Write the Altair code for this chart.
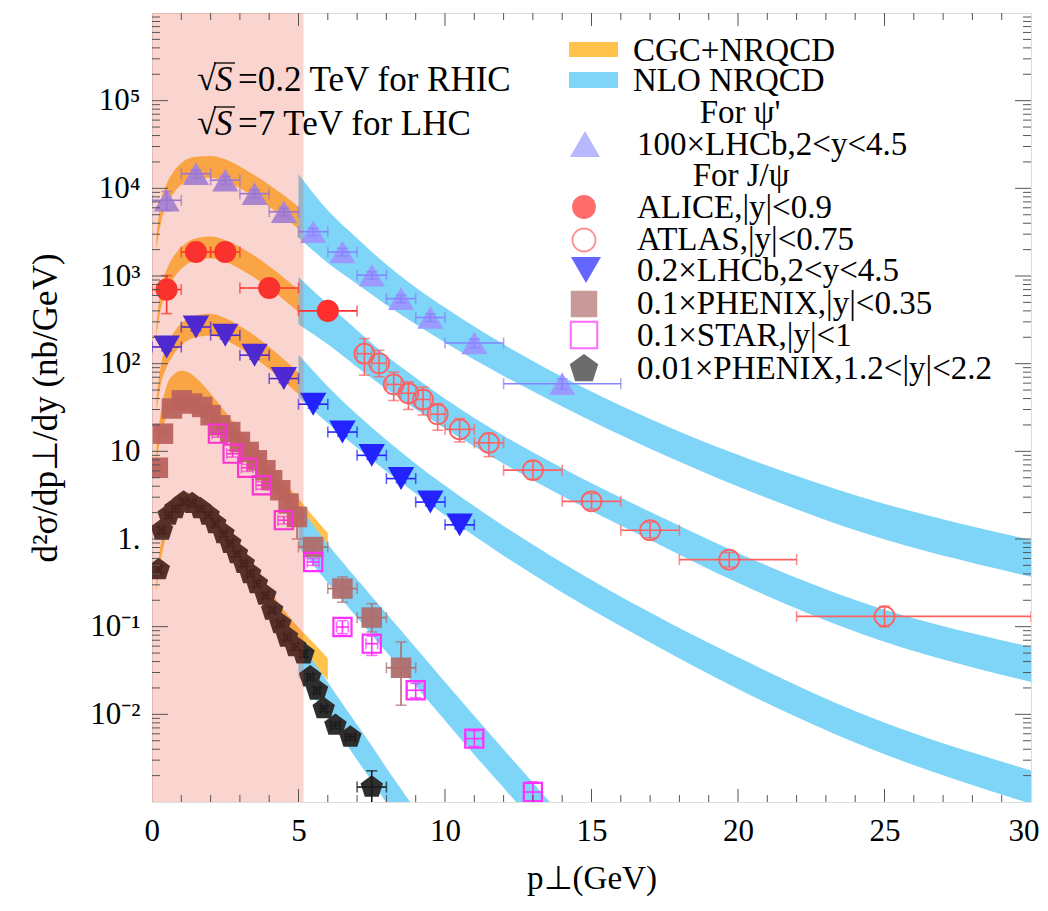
import altair as alt
import pandas as pd

# ---------------- measured data (values as read from the figure) ----------------
# psi(2S): 100 x LHCb, 2<y<4.5
psi_x   = [0.5, 1.5, 2.5, 3.5, 4.5, 5.5, 6.5, 7.5, 8.5, 9.5, 11, 14]
psi_y   = [7300, 14700, 12400, 8700, 5400, 3200, 1880, 1020, 552, 336, 172, 59]
psi_xlo = [0, 1, 2, 3, 4, 5, 6, 7, 8, 9, 10, 12]
psi_xhi = [1, 2, 3, 4, 5, 6, 7, 8, 9, 10, 12, 16]
psi_ylo = [5600, 13200, 11100, 7800, 4850, 2880, 1690, 920, 497, 302, 152, 51]
psi_yhi = [9200, 16200, 13700, 9600, 5950, 3520, 2070, 1120, 607, 370, 192, 67]

# J/psi: ALICE |y|<0.9
alice_x   = [0.5, 1.5, 2.5, 4, 6]
alice_y   = [700, 1880, 1880, 730, 400]
alice_xlo = [0, 1, 2, 3, 5]
alice_xhi = [1, 2, 3, 5, 7]
alice_ylo = [372, 1700, 1700, 650, 360]
alice_yhi = [1011, 2080, 2080, 820, 445]

# J/psi: ATLAS |y|<0.75
atlas_x   = [7.25, 7.75, 8.25, 8.75, 9.25, 9.75, 10.5, 11.5, 13, 15, 17, 19.7, 25]
atlas_y   = [130, 101, 58, 46, 39, 26.5, 17.8, 12.5, 6.1, 2.69, 1.26, 0.582, 0.131]
atlas_xlo = [7, 7.5, 8, 8.5, 9, 9.5, 10, 11, 12, 14, 16, 18, 22]
atlas_xhi = [7.5, 8, 8.5, 9, 9.5, 10, 11, 12, 14, 16, 18, 22, 30]
atlas_ylo = [74, 71, 38, 30, 26, 17.4, 12.8, 8.7, 4.8, 2.2, 1.03, 0.48, 0.0993]
atlas_yhi = [193, 142, 80, 62, 54, 35, 23.6, 16, 7.7, 3.3, 1.55, 0.70, 0.171]

# J/psi: 0.2 x LHCb, 2<y<4.5
lhcb_x   = [0.5, 1.5, 2.5, 3.5, 4.5, 5.5, 6.5, 7.5, 8.5, 9.5, 10.5]
lhcb_y   = [155, 262, 211, 125, 67.6, 34.5, 16.6, 9.0, 4.89, 2.64, 1.45]
lhcb_xlo = [0, 1, 2, 3, 4, 5, 6, 7, 8, 9, 10]
lhcb_xhi = [1, 2, 3, 4, 5, 6, 7, 8, 9, 10, 11]
lhcb_ylo = [140, 236, 190, 112, 60.8, 31, 14.9, 8.1, 4.4, 2.38, 1.3]
lhcb_yhi = [171, 288, 232, 138, 74.4, 38, 18.3, 9.9, 5.38, 2.9, 1.6]

# J/psi: 0.1 x PHENIX |y|<0.35
phx_x   = [0.2, 0.375, 0.68, 1.02, 1.37, 1.71, 2.0, 2.33, 2.67, 3.0, 3.3, 3.58, 3.87, 4.1, 4.38, 4.66, 4.95, 5.5, 6.5, 7.5, 8.5]
phx_y   = [6.5, 15.9, 30.8, 38.2, 35.1, 32.1, 25.8, 19.8, 16.6, 12.8, 9.84, 7.9, 6.08, 4.68, 3.6, 2.54, 1.78, 0.81, 0.272, 0.127, 0.034]
phx_xlo = [0.1, 0.25, 0.55, 0.9, 1.25, 1.6, 1.875, 2.2, 2.55, 2.875, 3.175, 3.45, 3.75, 3.975, 4.25, 4.5, 4.75, 5, 6, 7, 8]
phx_xhi = [0.3, 0.5, 0.8, 1.15, 1.5, 1.85, 2.125, 2.45, 2.8, 3.125, 3.425, 3.7, 4.0, 4.225, 4.5, 4.8, 5.15, 6, 7, 8, 9]
phx_ylo = [5.9, 14.5, 28.2, 35, 32.2, 29.4, 23.6, 18.1, 15.2, 11.7, 9.0, 7.2, 5.5, 4.25, 3.25, 2.25, 1.0, 0.68, 0.19, 0.087, 0.0127]
phx_yhi = [7.1, 17.3, 33.4, 41.4, 38, 34.8, 28, 21.5, 18, 13.9, 10.7, 8.6, 6.65, 5.1, 3.95, 2.85, 2.3, 0.95, 0.37, 0.183, 0.067]

# J/psi: 0.1 x STAR |y|<1
star_x   = [2.25, 2.75, 3.25, 3.75, 4.5, 5.5, 6.5, 7.5, 9, 11, 13]
star_y   = [15.9, 9.4, 6.5, 4.1, 1.64, 0.547, 0.099, 0.064, 0.0188, 0.00528, 0.0013]
star_xlo = [2.05, 2.55, 3.05, 3.55, 4.3, 5.3, 6.3, 7.3, 8.7, 10.7, 12.7]
star_xhi = [2.45, 2.95, 3.45, 3.95, 4.7, 5.7, 6.7, 7.7, 9.3, 11.3, 13.3]
star_ylo = [14.5, 8.6, 5.9, 3.7, 1.48, 0.5, 0.083, 0.047, 0.0155, 0.0043, 0.00095]
star_yhi = [17.4, 10.3, 7.1, 4.5, 1.8, 0.6, 0.117, 0.078, 0.0225, 0.0065, 0.0017]

# J/psi: 0.01 x PHENIX 1.2<|y|<2.2
fwd_x   = [0.23, 0.34, 0.57, 0.8, 1.08, 1.37, 1.65, 1.93, 2.16, 2.44, 2.67, 2.9, 3.13, 3.35, 3.58, 3.87, 4.1, 4.38, 4.61, 4.89, 5.17, 5.4, 5.63, 5.86, 6.26, 6.77, 7.5]
fwd_y   = [0.448, 1.26, 1.87, 2.22, 2.64, 2.54, 2.22, 1.87, 1.5, 1.15, 0.89, 0.68, 0.525, 0.403, 0.31, 0.228, 0.154, 0.108, 0.076, 0.059, 0.049, 0.0267, 0.0188, 0.0116, 0.0075, 0.0055, 0.00148]
fwd_xlo = [0.15, 0.25, 0.47, 0.7, 0.98, 1.27, 1.55, 1.83, 2.06, 2.34, 2.57, 2.8, 3.03, 3.25, 3.48, 3.77, 4.0, 4.28, 4.51, 4.79, 5.07, 5.3, 5.53, 5.76, 6.1, 6.6, 7.0]
fwd_xhi = [0.31, 0.43, 0.67, 0.9, 1.18, 1.47, 1.75, 2.03, 2.26, 2.54, 2.77, 3.0, 3.23, 3.45, 3.68, 3.97, 4.2, 4.48, 4.71, 4.99, 5.27, 5.5, 5.73, 5.96, 6.42, 6.94, 8.0]
fwd_ylo = [0.41, 1.16, 1.72, 2.04, 2.43, 2.34, 2.04, 1.72, 1.38, 1.06, 0.82, 0.625, 0.483, 0.371, 0.285, 0.21, 0.142, 0.099, 0.07, 0.054, 0.045, 0.0246, 0.0173, 0.0107, 0.0069, 0.0051, 0.00094]
fwd_yhi = [0.49, 1.36, 2.02, 2.4, 2.85, 2.74, 2.4, 2.02, 1.62, 1.24, 0.96, 0.735, 0.567, 0.435, 0.335, 0.246, 0.166, 0.117, 0.082, 0.064, 0.053, 0.0288, 0.0203, 0.0125, 0.0081, 0.0059, 0.00227]

# ---------------- theory bands (upper / lower edges) ----------------
# CGC+NRQCD (low pT)
cgc_lhc_x = [0.15, 0.3, 0.5, 0.75, 1.0, 1.5, 2.0, 2.5, 3.0, 3.5, 4.0, 4.5, 5.0, 5.5, 6.0, 6.5, 7.0]
cgc_psi_up = [2820, 7080, 11200, 15800, 19500, 22900, 23400, 21400, 17800, 14100, 11000, 8320, 6170, 4570, 3390, 2450, 1820]
cgc_psi_lo = [2000, 3980, 6310, 8910, 11000, 12900, 13200, 12000, 10000, 7940, 6170, 4680, 3470, 2570, 1910, 1410, 1050]
cgc_mid_up = [282, 708, 1175, 1700, 2140, 2690, 2820, 2570, 2140, 1700, 1290, 955, 692, 501, 363, 263, 191]
cgc_mid_lo = [200, 417, 661, 955, 1200, 1510, 1580, 1450, 1200, 955, 724, 537, 389, 282, 204, 151, 112]
cgc_fwd_up = [39.8, 95.5, 158, 229, 288, 355, 372, 331, 269, 209, 155, 112, 79.4, 56.2, 38.9, 26.9, 18.6]
cgc_fwd_lo = [28.2, 57.5, 91.2, 129, 162, 200, 209, 186, 151, 117, 87.1, 63.1, 44.7, 31.6, 22.4, 15.8, 11.2]
cgc_rhic_x = [0.15, 0.3, 0.5, 0.75, 1.0, 1.25, 1.5, 2.0, 2.5, 3.0, 3.5, 4.0, 4.5, 5.0, 5.5, 6.0]
cgc_rmid_up = [11.2, 28.2, 56.2, 75.9, 83.2, 79.4, 69.2, 45.7, 28.2, 17.4, 11.0, 6.92, 4.47, 2.88, 1.82, 1.17]
cgc_rmid_lo = [7.94, 14.1, 25.1, 35.5, 41.7, 41.7, 37.2, 26.3, 17.0, 10.5, 6.61, 4.17, 2.63, 1.66, 1.02, 0.617]
cgc_rfwd_up = [0.355, 0.891, 1.78, 2.82, 3.39, 3.39, 3.02, 2.09, 1.26, 0.741, 0.437, 0.263, 0.155, 0.0977, 0.0661, 0.0437]
cgc_rfwd_lo = [0.251, 0.562, 1.12, 1.78, 2.14, 2.24, 2.0, 1.41, 0.851, 0.501, 0.295, 0.170, 0.100, 0.0589, 0.0380, 0.0245]

# NLO NRQCD (high pT)
nlo_lhc_x = [5, 6, 7, 8, 9, 10, 12, 14, 17, 20, 24.2, 30]
nlo_psi_up = [14500, 5620, 2690, 1350, 741, 437, 166, 70.8, 23.4, 9.12, 3.02, 0.977]
nlo_psi_lo = [2750, 1410, 813, 468, 282, 174, 72.4, 32.4, 10.7, 3.98, 1.20, 0.372]
nlo_mid_up = [977, 479, 240, 123, 69.2, 39.8, 15.1, 6.46, 2.04, 0.692, 0.191, 0.0589]
nlo_mid_lo = [282, 166, 91.2, 51.3, 30.2, 18.2, 7.24, 3.09, 0.977, 0.316, 0.0832, 0.0234]
nlo_fwd_up = [126, 55.0, 26.3, 13.5, 7.24, 4.07, 1.41, 0.537, 0.145, 0.0447, 0.0102, 0.00229]
nlo_fwd_lo = [41.7, 20.9, 11.0, 5.89, 3.31, 1.86, 0.646, 0.245, 0.0661, 0.0195, 0.00447, 0.000955]
nlo_rmid_x = [5, 6, 7, 8, 9, 10, 11, 12, 13, 14]
nlo_rmid_up = [2.45, 0.871, 0.347, 0.141, 0.0575, 0.0234, 0.00955, 0.00398, 0.00166, 0.000692]
nlo_rmid_lo = [0.813, 0.316, 0.126, 0.0513, 0.0209, 0.00851, 0.00347, 0.00145, 0.000603, 0.000251]
nlo_rfwd_x = [5, 5.5, 6, 6.5, 7, 7.5, 8, 8.5, 9, 9.5]
nlo_rfwd_up = [0.0741, 0.0407, 0.0234, 0.0132, 0.00759, 0.00437, 0.00245, 0.00141, 0.000813, 0.000468]
nlo_rfwd_lo = [0.0269, 0.0162, 0.00933, 0.00525, 0.00302, 0.00174, 0.000977, 0.000562, 0.000324, 0.000186]

# shaded low-pT region
shade_x0, shade_x1 = [0.0], [5.17]

# axis ticks
x_major = [5, 10, 15, 20, 25]
x_minor = [i for i in range(1, 30) if i % 5]
y_major = [1e-2, 1e-1, 1, 10, 100, 1e3, 1e4, 1e5]
y_minor = [m * 10.0 ** e for e in range(-3, 6) for m in range(2, 10)]
y_label_vals = [1e-2, 1e-1, 1, 10, 100, 1e3, 1e4, 1e5]

# ---------------- styling ----------------
SERIF = "Liberation Serif"
W, H = 879, 789
FS = 31
ORANGE = "#FFC24D"
BLUE = "#7FD5F8"
TICK = "#555555"

XS = alt.Scale(domain=[0, 30], nice=False, zero=False)
YS = alt.Scale(type="log", domain=[0.001, 1e6], nice=False)
XAX = alt.Axis(values=[0, 5, 10, 15, 20, 25, 30], format="d", title="p⊥(GeV)",
               ticks=False, domain=False, grid=False, labelFlush=True, labelFlushOffset=8,
               labelFont=SERIF, labelFontSize=FS, labelColor="black", labelPadding=14,
               titleFont=SERIF, titleFontSize=33, titleFontWeight="normal",
               titleColor="black", titlePadding=16)
YLAB = ("datum.value < 0.05 ? '10⁻²' : datum.value < 0.5 ? '10⁻¹' : datum.value < 5 ? '1.' : "
        "datum.value < 50 ? '10' : datum.value < 500 ? '10²' : datum.value < 5000 ? '10³' : "
        "datum.value < 50000 ? '10⁴' : '10⁵'")
YAX = alt.Axis(values=y_label_vals, labelExpr=YLAB, title="d²σ/dp⊥/dy (nb/GeV)",
               ticks=False, domain=False, grid=False, labelOverlap=False, labelFlush=False,
               labelFont=SERIF, labelFontSize=FS, labelColor="black", labelPadding=12,
               titleFont=SERIF, titleFontSize=35, titleFontWeight="normal",
               titleColor="black", titlePadding=26)


def X(f):
    return alt.X(f, type="quantitative", scale=XS, axis=XAX)


def Y(f):
    return alt.Y(f, type="quantitative", scale=YS, axis=YAX)


def band(x, up, lo, color):
    df = pd.DataFrame({"x": x, "up": up, "lo": lo})
    return alt.Chart(df).mark_area(color=color, opacity=1, interpolate="monotone", clip=True).encode(
        x=X("x"), y=Y("up"), y2="lo")


def series(x, y, xlo, xhi, ylo, yhi, shape, size, color, filled, sw=0, op=1.0, ecolor=None):
    df = pd.DataFrame({"x": x, "y": y, "xlo": xlo, "xhi": xhi, "ylo": ylo, "yhi": yhi})
    ec = ecolor or color
    if filled:
        pts = alt.Chart(df).mark_point(shape=shape, size=size, filled=True, color=color,
                                       opacity=op, strokeWidth=0, clip=True)
    else:
        pts = alt.Chart(df).mark_point(shape=shape, size=size, filled=False, color=color,
                                       opacity=op, strokeWidth=sw, clip=True)
    pts = pts.encode(x=X("x"), y=Y("y"))
    hb = alt.Chart(df).mark_errorbar(ticks=True, size=11, thickness=1.6, color=ec, clip=True).encode(
        x=X("xlo"), x2="xhi", y=Y("y"))
    vb = alt.Chart(df).mark_errorbar(ticks=True, size=11, thickness=1.6, color=ec, clip=True).encode(
        y=Y("ylo"), y2="yhi", x=X("x"))
    return [pts, hb, vb]


PENTA = "M0,-1L0.951,-0.309L0.588,0.809L-0.588,0.809L-0.951,-0.309Z"

layers = []
# CGC+NRQCD bands
layers += [band(cgc_lhc_x, cgc_psi_up, cgc_psi_lo, ORANGE),
           band(cgc_lhc_x, cgc_mid_up, cgc_mid_lo, ORANGE),
           band(cgc_lhc_x, cgc_fwd_up, cgc_fwd_lo, ORANGE),
           band(cgc_rhic_x, cgc_rmid_up, cgc_rmid_lo, ORANGE),
           band(cgc_rhic_x, cgc_rfwd_up, cgc_rfwd_lo, ORANGE)]
# NLO NRQCD bands
layers += [band(nlo_lhc_x, nlo_psi_up, nlo_psi_lo, BLUE),
           band(nlo_lhc_x, nlo_mid_up, nlo_mid_lo, BLUE),
           band(nlo_lhc_x, nlo_fwd_up, nlo_fwd_lo, BLUE),
           band(nlo_rmid_x, nlo_rmid_up, nlo_rmid_lo, BLUE),
           band(nlo_rfwd_x, nlo_rfwd_up, nlo_rfwd_lo, BLUE)]

# data
layers += series(psi_x, psi_y, psi_xlo, psi_xhi, psi_ylo, psi_yhi, "triangle-up", 680, "#9A9AFF", True, ecolor="#8585FF")
layers += series(alice_x, alice_y, alice_xlo, alice_xhi, alice_ylo, alice_yhi, "circle", 490, "#FF2F2F", True)
layers += series(atlas_x, atlas_y, atlas_xlo, atlas_xhi, atlas_ylo, atlas_yhi, "circle", 400, "#FF6060", False, sw=1.8)
layers += series(lhcb_x, lhcb_y, lhcb_xlo, lhcb_xhi, lhcb_ylo, lhcb_yhi, "triangle-down", 700, "#2323FF", True)
layers += series(phx_x, phx_y, phx_xlo, phx_xhi, phx_ylo, phx_yhi, "square", 420, "#B06E6E", True, op=0.95)
layers += series(star_x, star_y, star_xlo, star_xhi, star_ylo, star_yhi, "square", 330, "#FF30FF", False, sw=2.2)
layers += series(fwd_x, fwd_y, fwd_xlo, fwd_xhi, fwd_ylo, fwd_yhi, PENTA, 560, "#2E2E2E", True, ecolor="#1a1a1a")

# shaded region on top
shade = alt.Chart(pd.DataFrame({"x0": shade_x0, "x1": shade_x1})).mark_rect(
    color="#E8402A", opacity=0.22).encode(x=X("x0"), x2="x1", y=alt.value(0), y2=alt.value(H))
layers.append(shade)


# frame ticks (inward)
def yticks(vals, length):
    df = pd.DataFrame({"v": vals})
    l = alt.Chart(df).mark_rule(color=TICK, strokeWidth=1).encode(y=Y("v"), x=alt.value(0), x2=alt.value(length))
    r = alt.Chart(df).mark_rule(color=TICK, strokeWidth=1).encode(y=Y("v"), x=alt.value(W - length), x2=alt.value(W))
    return [l, r]


def xticks(vals, length):
    df = pd.DataFrame({"v": vals})
    b = alt.Chart(df).mark_rule(color=TICK, strokeWidth=1).encode(x=X("v"), y=alt.value(H - length), y2=alt.value(H))
    t = alt.Chart(df).mark_rule(color=TICK, strokeWidth=1).encode(x=X("v"), y=alt.value(0), y2=alt.value(length))
    return [b, t]


layers += yticks(y_major, 16) + yticks(y_minor, 8) + xticks(x_major, 13) + xticks(x_minor, 7)

one = pd.DataFrame({"a": [0]})


def txt(s, x, y, size=33, align="left", style="normal"):
    return alt.Chart(one).mark_text(text=s, font=SERIF, fontSize=size, align=align, baseline="middle",
                                    color="black", fontStyle=style).encode(x=alt.value(x), y=alt.value(y))


def swatch(x0, x1, y0, y1, color):
    return alt.Chart(one).mark_rect(color=color).encode(x=alt.value(x0), x2=alt.value(x1),
                                                        y=alt.value(y0), y2=alt.value(y1))


def lmark(shape, size, color, filled, x, y, sw=0):
    if filled:
        m = alt.Chart(one).mark_point(shape=shape, size=size, filled=True, color=color, strokeWidth=0)
    else:
        m = alt.Chart(one).mark_point(shape=shape, size=size, filled=False, color=color, strokeWidth=sw)
    return m.encode(x=alt.value(x), y=alt.value(y))


# annotation: sqrt(S) lines
for yy, rest in [(65, "=0.2 TeV for RHIC"), (109, "=7 TeV for LHC")]:
    layers.append(txt("√", 45, yy + 1, size=35))
    layers.append(txt("S", 63, yy + 2, size=35, style="italic"))
    layers.append(alt.Chart(one).mark_rule(color="black", strokeWidth=1.3).encode(
        x=alt.value(62), x2=alt.value(83), y=alt.value(yy - 15)))
    layers.append(txt(rest, 86, yy + 2, size=35))

# legend
layers.append(swatch(417, 466, 29, 44, ORANGE))
layers.append(swatch(417, 466, 59, 75, BLUE))
layers.append(txt("CGC+NRQCD", 481, 38))
layers.append(txt("NLO NRQCD", 481, 68))
layers.append(txt("For ψ'", 588, 100, align="center"))
layers.append(lmark("triangle-up", 900, "#9A9AFF", True, 433, 131))
layers.append(txt("100×LHCb,2<y<4.5", 485, 132))
layers.append(txt("For J/ψ", 589, 163, align="center"))
layers.append(lmark("circle", 570, "#FF2F2F", True, 432, 194))
layers.append(txt("ALICE,|y|<0.9", 485, 195))
layers.append(lmark("circle", 530, "#FF6060", False, 432, 227, sw=1.8))
layers.append(txt("ATLAS,|y|<0.75", 485, 227))
layers.append(lmark("triangle-down", 900, "#2323FF", True, 434, 257))
layers.append(txt("0.2×LHCb,2<y<4.5", 485, 258))
layers.append(lmark("square", 700, "#B06E6E", True, 432, 291))
layers.append(txt("0.1×PHENIX,|y|<0.35", 485, 291))
layers.append(lmark("square", 700, "#FF30FF", False, 432, 322, sw=2))
layers.append(txt("0.1×STAR,|y|<1", 485, 323))
layers.append(lmark(PENTA, 900, "#2E2E2E", True, 432, 356))
layers.append(txt("0.01×PHENIX,1.2<|y|<2.2", 485, 356))

chart = alt.layer(*layers).properties(
    width=W, height=H,
    padding={"left": 144, "top": 5, "right": 9, "bottom": 100},
    autosize=alt.AutoSizeParams(type="none"),
).configure_view(stroke="#444444", strokeWidth=1.2).configure(background="white")

chart.save("out.html", embed_options={"renderer": "svg", "actions": False})
